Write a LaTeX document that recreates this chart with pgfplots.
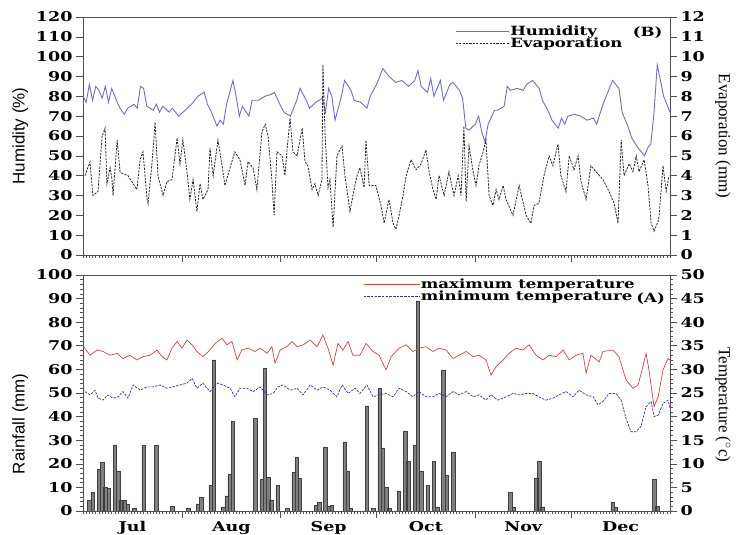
\documentclass[border=0pt]{standalone}
\usepackage{pgfplots}
\pgfplotsset{compat=1.18}
\usepackage{pgfplotstable}
\usepackage{fontspec}
\setmainfont{DejaVu Serif}[FakeStretch=1.3]
\newfontfamily\labsans{Liberation Sans}
\newfontfamily\labserif{Liberation Serif}
\newcommand\tfont{\fontsize{13.5}{14}\selectfont\bfseries}
\newcommand\lfont{\fontsize{12.8}{13}\selectfont\bfseries}
\definecolor{humc}{RGB}{110,110,185}
\definecolor{tmaxc}{RGB}{200,70,70}
\definecolor{tminc}{RGB}{50,50,160}
\definecolor{axc}{RGB}{80,80,80}

\pgfplotstableread{
d h
0 80
1 77
2 86
3 78
4 85
5 83
6 79
7 85
8 77
9 84
10 80
11 76
12 73
13 71
14 74
16 76
17 74
18 85
19 84
20 75
22 73
23 76
24 72
25 75
27 72
28 74
29 72
30 70
32 73
34 76
36 80
38 82
39 76
40 73
42 65
43 68
44 66
45 76
47 88
48 80
49 70
50 75
52 70
53 78
55 78
57 80
59 81
60 82
62 75
63 72
65 70
67 78
68 84
70 78
71 74
73 77
75 79
76 72
77 84
78 80
79 68
81 80
82 88
84 83
85 78
87 77
89 74
90 80
92 86
93 90
94 94
96 90
98 87
100 88
102 85
104 88
105 93
106 85
108 82
109 89
110 80
112 88
113 78
115 86
116 87
118 83
119 79
120 64
121 63
123 66
124 70
125 62
126 57
127 66
129 73
130 73
132 75
133 85
134 83
136 84
138 83
139 86
141 88
143 84
144 78
146 72
147 68
149 64
150 69
151 66
152 70
154 71
156 70
158 68
160 69
161 66
162 71
163 76
165 84
166 88
168 84
169 72
171 64
172 59
174 54
176 50
177 54
178 56
179 72
180 96
181 88
182 80
184 72
}\humtab

\pgfplotstableread{
d e
0.6 4.0
2.2 4.7
3.1 3.0
4.7 3.2
6.0 6.0
6.9 6.4
7.5 3.6
8.5 4.4
9.1 3.8
9.4 3.0
10.7 5.8
11.6 4.2
12.5 4.1
14.1 4.0
15.7 3.6
16.9 3.3
17.9 4.8
18.8 5.2
20.1 2.8
20.4 2.6
21.6 4.6
22.6 6.7
23.5 4.0
25.1 3.0
26.3 3.7
27.9 3.8
29.5 5.9
30.4 4.6
31.3 5.8
32.6 4.2
33.5 2.8
34.5 3.8
35.7 2.2
36.7 3.6
37.6 2.8
39.2 3.3
39.8 5.4
40.8 4.0
42.3 5.8
43.6 4.5
44.5 3.5
46.1 4.4
47.6 5.2
49.2 4.8
50.8 3.5
51.7 4.7
53.3 4.4
54.5 3.3
56.1 6.2
57.1 6.6
58.0 6.0
59.2 3.8
59.9 2.0
60.8 5.2
62.4 5.0
63.3 4.0
63.9 5.2
64.9 6.9
65.8 5.2
67.1 5.0
68.7 6.4
69.6 4.7
70.5 4.5
71.8 3.3
72.7 3.6
73.7 3.0
74.9 3.8
75.2 9.6
75.9 6.0
76.8 3.4
77.4 3.8
78.4 1.4
79.6 5.0
81.2 5.5
82.1 4.0
83.7 2.2
84.6 3.0
85.9 4.0
86.8 4.4
88.1 3.4
88.7 5.8
89.7 3.5
91.8 3.5
93.4 2.5
94.4 1.6
95.9 2.8
97.2 1.6
98.1 1.3
99.1 2.0
100.3 3.0
101.3 4.0
102.8 4.8
104.4 4.3
106.0 4.6
107.5 5.3
108.5 4.2
109.7 3.3
110.7 2.8
111.6 4.0
113.2 3.0
114.7 4.2
116.3 3.0
117.6 4.0
118.5 3.0
119.4 6.5
120.1 2.7
121.0 5.5
122.3 4.2
123.2 3.5
124.1 4.5
125.4 5.2
126.3 5.8
127.3 3.0
128.5 2.5
129.5 3.3
130.4 2.8
131.7 3.5
132.6 2.8
134.8 2.0
136.7 3.5
138.9 2.0
140.4 1.6
141.4 2.5
142.9 2.6
144.5 4.0
146.1 5.0
147.3 4.5
148.9 5.6
149.8 4.0
151.4 3.2
152.4 5.0
153.9 4.3
155.2 5.0
156.1 3.7
157.7 2.8
159.2 4.5
160.8 4.2
163.0 3.8
164.9 3.2
166.5 2.6
167.7 1.6
168.7 5.8
169.6 4.0
171.2 4.6
172.4 4.2
173.4 5.0
174.3 4.2
175.9 4.8
177.1 3.5
178.1 1.6
179.0 1.2
180.3 1.7
180.6 2.0
181.8 4.5
182.8 3.2
183.7 4.0
}\evaptab

\pgfplotstableread{
d r
2 4.5
3 8
5 17.5
6 20.5
7 10
8 9.5
10 28
11 17
12 4.5
13 4.5
14 3
16 1
19 27.7
23 27.7
28 2
33 1
36 3
37 5.9
40 11
41 64
44 1.8
45 6.4
46 15.5
47 38
54 39.3
56 13.3
57 60.4
58 14.4
59 4.5
61 10.9
64 1
66 16.3
67 22.6
68 13.7
73 2.4
74 3.7
76 27
77 2
78 2.4
82 29.3
83 17
84 1
89 44.5
91 1
93 52
94 26.7
95 10
96 1
99 8.5
101 33.6
102 21
104 28
105 89
106 16.7
108 11
110 21
111 1.8
113 59.7
114 15.3
116 25
134 8
135 1.5
142 14
143 21
144 1.8
166 3.5
167 1.5
179 13.5
180 2
}\raintab

\pgfplotstableread{
d t
0 35.0
2.2 33.0
4.4 34.1
6.3 33.8
8.5 33.0
10.7 33.4
12.5 32.3
14.7 33.0
16.9 32.0
18.8 32.7
21.0 33.0
23.2 34.1
24.8 32.7
26.3 32.0
27.9 34.5
29.5 35.9
31.0 34.5
32.6 36.2
34.2 35.2
35.7 33.8
37.6 32.7
39.8 34.1
41.4 35.5
43.6 36.6
45.1 35.2
46.7 35.9
48.3 32.0
49.8 34.1
51.7 34.5
53.9 33.8
55.5 34.5
57.7 33.4
59.2 34.8
60.2 31.3
61.8 34.1
63.9 34.8
65.5 35.9
67.1 34.8
69.0 35.2
71.2 36.2
73.4 34.8
75.2 37.3
76.8 34.5
78.4 30.9
79.9 35.5
81.5 34.1
83.1 35.9
84.6 33.0
86.8 33.0
88.7 35.5
90.9 33.8
92.8 33.0
95.0 29.9
96.6 32.7
99.1 34.5
101.3 35.2
103.4 33.8
105.3 34.5
107.5 34.8
109.7 33.8
111.6 34.5
113.8 34.1
116.0 32.3
117.9 33.0
120.1 33.8
122.3 32.7
124.1 33.0
126.3 32.0
127.9 28.8
129.5 30.6
131.7 32.0
133.5 33.4
135.7 34.5
137.9 34.1
139.8 35.2
142.0 33.0
144.2 32.0
146.1 33.0
148.3 32.7
150.5 34.1
152.4 32.0
154.5 33.0
156.7 33.4
157.7 29.2
159.2 33.0
161.8 31.6
163.0 33.8
166.1 34.1
168.0 32.7
170.2 27.8
172.4 26.0
174.0 26.7
175.5 30.6
176.5 33.4
177.4 29.9
179.0 22.1
180.3 24.2
181.8 29.9
183.4 32.3
184 32.0
}\tmaxtab

\pgfplotstableread{
d t
0.6 25.3
2.2 24.6
3.8 25.6
4.7 23.9
6.3 23.5
7.8 24.6
9.4 23.9
11.0 24.2
12.5 25.3
14.1 23.9
15.7 26.7
17.9 25.6
20.1 26.3
21.9 26.3
24.1 26.7
26.3 26.0
28.2 26.3
30.4 26.7
32.6 27.1
34.2 28.1
35.7 26.0
37.6 27.1
39.8 25.3
42.0 27.1
43.9 26.7
46.1 26.0
47.6 24.2
49.2 26.0
51.4 26.0
53.3 25.3
55.5 26.3
57.7 24.6
59.6 24.9
61.1 26.3
62.7 26.7
64.9 25.6
67.1 26.0
69.0 24.6
71.2 26.7
73.4 25.6
75.2 26.3
77.4 25.6
79.6 24.2
81.2 26.7
83.1 24.9
85.3 26.0
86.8 24.9
89.0 26.7
90.9 24.2
92.8 24.6
95.0 24.9
97.2 24.2
99.1 26.0
101.3 25.3
103.4 24.2
105.3 25.3
107.5 24.2
109.7 24.2
111.6 24.9
113.8 24.2
116.0 25.3
117.9 24.6
120.1 25.3
122.3 24.2
124.1 24.6
126.3 23.5
127.9 24.6
130.1 23.5
132.6 24.2
134.8 24.9
136.7 24.6
138.9 24.9
141.1 24.9
142.9 24.2
145.1 23.5
147.3 23.9
149.2 24.6
151.4 25.3
153.6 24.2
155.5 25.6
157.7 24.6
159.9 24.2
161.4 22.5
163.0 23.2
164.9 24.9
167.1 24.9
168.7 23.5
170.2 19.6
171.8 16.8
173.4 16.8
174.9 17.9
176.5 22.1
178.1 23.2
179.0 20.0
180.3 20.3
181.8 22.8
183.4 23.5
184 21.8
}\tmintab

\pgfplotsset{
  base/.style={scale only axis, width=587bp, xmin=0, xmax=184,
    /pgf/number format/assume math mode=true,
    tick label style={font=\tfont},
    tick align=outside, major tick length=7bp, minor tick length=3bp,
    axis line style={draw=axc, line width=0.9pt},
    every tick/.style={draw=axc, line width=0.6pt},
    clip=true},
}

\begin{document}
\begin{tikzpicture}
\path[use as bounding box] (0,0) rectangle (736bp,535bp);
% ---------------- top panel (B) ----------------
\begin{axis}[base, at={(83bp,280bp)}, anchor=south west, height=238bp,
  ymin=0, ymax=120, ytick={0,10,...,120}, ytick pos=left,
  xtick={31,62,92,123,153}, xticklabels={}, minor xtick={0,1,...,184}, xtick pos=left,
  ylabel={Humidity (\%)},
  ylabel style={font=\labsans\fontsize{17}{18}\selectfont, at={(axis description cs:-0.107,0.5)}, anchor=center}]
\addplot[humc, line width=0.9pt] table[x=d, y=h] {\humtab};
\end{axis}
\begin{axis}[base, at={(83bp,280bp)}, anchor=south west, height=238bp,
  ymin=0, ymax=12, ytick={0,1,...,12}, axis y line*=right, axis x line=none,
  ylabel={Evaporation (mm)},
  ylabel style={font=\labserif\fontsize{17}{18}\selectfont, rotate=180, at={(axis description cs:1.09,0.5)}, anchor=center},
  legend image code/.code={\draw[#1] (0bp,0bp) -- (43bp,0bp); \path (0bp,0bp) -- (53bp,0bp);},
  legend style={at={(rel axis cs:0.634,0.968)}, anchor=north west, draw=none, fill=none,
    font=\lfont, row sep=-1.5pt, inner sep=0pt, nodes={inner sep=1pt}},
  legend cell align=left]
\addlegendimage{humc, line width=0.9pt}
\addlegendentry{Humidity}
\addplot[black!85, line width=0.8pt, dash pattern=on 2.2pt off 1.2pt] table[x=d, y=e] {\evaptab};
\addlegendentry{Evaporation}
\node[font=\lfont] at (rel axis cs:0.962,0.933) {(B)};
\end{axis}
% ---------------- bottom panel (A) ----------------
\begin{axis}[base, at={(83bp,24bp)}, anchor=south west, height=236bp,
  ymin=0, ymax=100, ytick={0,10,...,100}, minor y tick num=4, ytick pos=left,
  xtick={15.5,46.5,77,107.5,138,168.5}, xticklabels={Jul,Aug,Sep,Oct,Nov,Dec},
  xtick pos=left, major x tick style={draw=none},
  minor xtick={0,1,...,184},
  extra x ticks={31,62,92,123,153}, extra x tick labels={},
  extra x tick style={major x tick style={draw=axc}},
  ylabel={Rainfall (mm)},
  ylabel style={font=\labsans\fontsize{17}{18}\selectfont, at={(axis description cs:-0.107,0.37)}, anchor=center},
  ybar, bar width=1.1]
\addplot[fill=black!50, draw=black!75, line width=0.5pt] table[x=d, y=r] {\raintab};
\end{axis}
\begin{axis}[base, at={(83bp,24bp)}, anchor=south west, height=236bp,
  ymin=0, ymax=50, ytick={0,5,...,50}, minor y tick num=4, axis y line*=right, axis x line=none,
  ylabel={Temperature ($^{\circ}$c)},
  ylabel style={font=\labserif\fontsize{17}{18}\selectfont, rotate=180, at={(axis description cs:1.09,0.45)}, anchor=center},
  legend image code/.code={\draw[#1] (0bp,0bp) -- (48bp,0bp); \path (0bp,0bp) -- (56bp,0bp);},
  legend style={at={(rel axis cs:0.477,0.99)}, anchor=north west, draw=none, fill=none,
    font=\lfont, row sep=-1pt, inner sep=0pt, nodes={inner sep=1pt}},
  legend cell align=left]
\addplot[tmaxc, line width=0.7pt] table[x=d, y=t] {\tmaxtab};
\addlegendentry{maximum temperature}
\addplot[tminc, line width=0.7pt, dash pattern=on 2.5pt off 1.2pt] table[x=d, y=t] {\tmintab};
\addlegendentry{minimum temperature}
\node[font=\lfont] at (rel axis cs:0.967,0.9) {(A)};
\end{axis}
\end{tikzpicture}
\end{document}
